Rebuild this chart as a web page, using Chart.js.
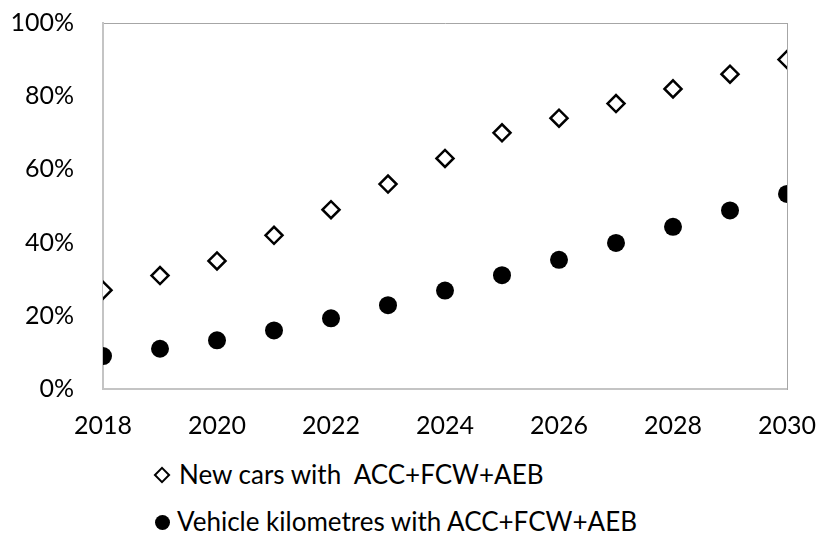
<!DOCTYPE html>
<html>
<head>
<meta charset="utf-8">
<script src="https://cdn.jsdelivr.net/npm/chart.js@4"></script>
<style>
    body { margin: 0; background: #fff; }
    #wrap { position: relative; width: 818px; height: 536px; }
    #chartBox { position: absolute; left: 0; top: 0; width: 818px; height: 446px; }
    #legend { position: absolute; left: 153px; top: 451px; font-family: Lato, sans-serif; font-size: 26px; color: #000; }
    .item { height: 47px; line-height: 47px; white-space: pre; }
    .mark { display: inline-block; vertical-align: middle; position: relative; top: -2px; }
    .diamond { width: 8px; height: 8px; border: 2.2px solid #000; transform: rotate(45deg); margin-left: 3px; margin-right: 11px; }
    .dot { border-radius: 50%; background: #000; width: 15px; height: 15px; margin-left: 2px; margin-right: 7px; }
</style>
</head>
<body>
<div id="wrap">
    <div id="chartBox"><canvas id="adasChart"></canvas></div>
    <div id="legend"></div>
</div>
<script>
const years = [2018, 2019, 2020, 2021, 2022, 2023, 2024, 2025, 2026, 2027, 2028, 2029, 2030];
const newCars = [27, 31, 35, 42, 49, 56, 63, 70, 74, 78, 82, 86, 90];
const vehicleKm = [9, 11, 13.3, 16, 19.3, 22.9, 26.9, 31.1, 35.3, 39.9, 44.3, 48.8, 53.3];
const seriesLabels = ['New cars with  ACC+FCW+AEB', 'Vehicle kilometres with ACC+FCW+AEB'];
const yTicks = [0, 20, 40, 60, 80, 100];
const xTicks = [2018, 2020, 2022, 2024, 2026, 2028, 2030];

document.addEventListener('DOMContentLoaded', function() {
    initChart();
    buildLegend();
});

function toPoints(values) {
    return years.map(function(y, i) { return { x: y, y: values[i] }; });
}

function initChart() {
    const ctx = document.getElementById('adasChart');
    if (!ctx) return;

    const tickFont = { family: 'Lato', size: 25 };

    new Chart(ctx, {
        type: 'scatter',
        data: {
            datasets: [{
                label: seriesLabels[0],
                data: toPoints(newCars),
                pointStyle: 'rectRot',
                pointRadius: 8.5,
                pointBorderWidth: 2.5,
                pointBorderColor: '#000',
                pointBackgroundColor: '#fff'
            }, {
                label: seriesLabels[1],
                data: toPoints(vehicleKm),
                pointStyle: 'circle',
                pointRadius: 9,
                pointBorderWidth: 0,
                pointBackgroundColor: '#000'
            }]
        },
        options: {
            responsive: true,
            maintainAspectRatio: false,
            animation: false,
            layout: {
                padding: { top: 23, right: 31, left: 0, bottom: 0 }
            },
            plugins: {
                legend: { display: false },
                tooltip: { enabled: false }
            },
            scales: {
                x: {
                    type: 'linear',
                    min: 2018,
                    max: 2030,
                    afterBuildTicks: function(axis) {
                        axis.ticks = xTicks.map(function(v) { return { value: v }; });
                    },
                    afterFit: function(axis) {
                        axis.height = 57;
                        axis.paddingLeft = 0;
                        axis.paddingRight = 0;
                    },
                    ticks: {
                        color: '#000',
                        font: tickFont,
                        padding: 14,
                        maxRotation: 0,
                        callback: function(v) { return String(v); }
                    },
                    grid: { display: false },
                    border: { display: true, color: '#c4c4c4', width: 2 }
                },
                xTop: {
                    type: 'linear',
                    position: 'top',
                    min: 2018,
                    max: 2030,
                    afterFit: function(axis) { axis.height = 0; },
                    ticks: { display: false },
                    grid: { display: false },
                    border: { display: true, color: '#a6a6a6', width: 1, dash: [1, 1] }
                },
                y: {
                    min: 0,
                    max: 100,
                    afterBuildTicks: function(axis) {
                        axis.ticks = yTicks.map(function(v) { return { value: v }; });
                    },
                    afterFit: function(axis) {
                        axis.width = 103;
                        axis.paddingTop = 0;
                        axis.paddingBottom = 0;
                    },
                    ticks: {
                        color: '#000',
                        font: tickFont,
                        padding: 21,
                        callback: function(v) { return v + '%'; }
                    },
                    grid: { display: false },
                    border: { display: true, color: '#c4c4c4', width: 2 }
                },
                yRight: {
                    position: 'right',
                    min: 0,
                    max: 100,
                    afterFit: function(axis) { axis.width = 0; },
                    ticks: { display: false },
                    grid: { display: false },
                    border: { display: true, color: '#a6a6a6', width: 1, dash: [1, 1] }
                }
            }
        }
    });
}

function buildLegend() {
    const box = document.getElementById('legend');
    const marks = ['diamond', 'dot'];
    seriesLabels.forEach(function(label, i) {
        const row = document.createElement('div');
        row.className = 'item';
        const m = document.createElement('span');
        m.className = 'mark ' + marks[i];
        row.appendChild(m);
        row.appendChild(document.createTextNode(label));
        box.appendChild(row);
    });
}
</script>
</body>
</html>
